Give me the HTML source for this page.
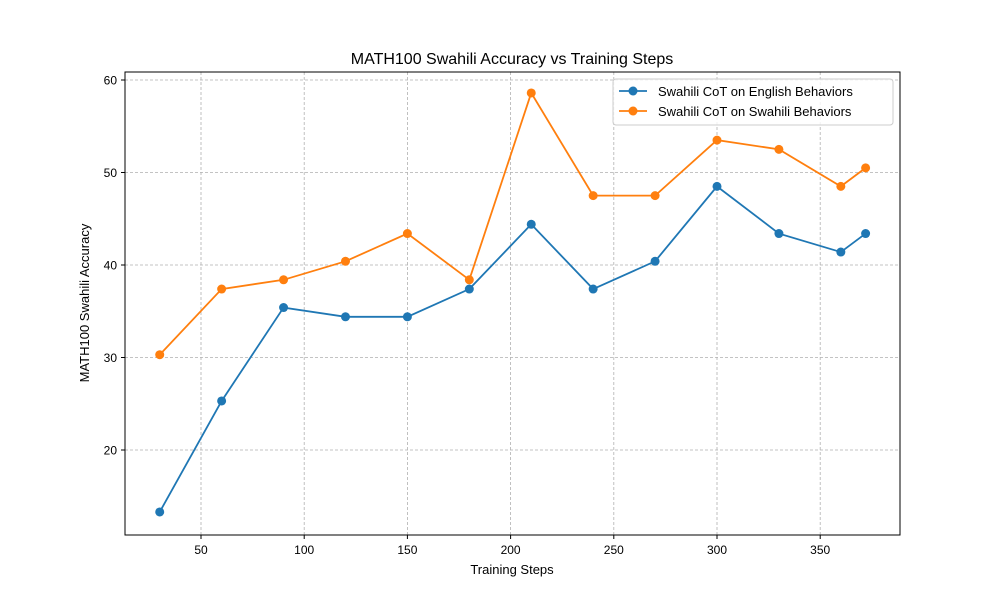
<!DOCTYPE html>
<html><head><meta charset="utf-8"><style>
body{margin:0;background:#fff;}
svg{font-family:"Liberation Sans","DejaVu Sans",sans-serif;}
</style></head><body>
<svg id="chart" width="1000" height="600" viewBox="0 0 1000 600">
<rect width="1000" height="600" fill="#fff"/>
<g id="grid"></g>
<g id="series"></g>
<rect x="125" y="72" width="775" height="463" fill="none" stroke="#000" stroke-width="1"/>
<g id="ticks"></g>
<text x="512" y="64" text-anchor="middle" font-size="16">MATH100 Swahili Accuracy vs Training Steps</text>
<text x="512" y="574" text-anchor="middle" font-size="13">Training Steps</text>
<text transform="translate(89,303) rotate(-90)" text-anchor="middle" font-size="13">MATH100 Swahili Accuracy</text>
<g>
<rect x="613" y="79" width="280" height="46" fill="#fff" fill-opacity="0.8" stroke="#ccc" rx="3"/>
<g>
<line x1="619" y1="91" x2="647" y2="91" stroke="#1f77b4" stroke-width="1.8"/>
<circle cx="633" cy="91" r="4.5" fill="#1f77b4"/>
<text x="658" y="96" font-size="13">Swahili CoT on English Behaviors</text></g>
<g>
<line x1="619" y1="111" x2="647" y2="111" stroke="#ff7f0e" stroke-width="1.8"/>
<circle cx="633" cy="111" r="4.5" fill="#ff7f0e"/>
<text x="658" y="116" font-size="13">Swahili CoT on Swahili Behaviors</text></g>
</g>
</svg>
<script>
const steps = [30,60,90,120,150,180,210,240,270,300,330,360,372];
const englishAcc = [13.3,25.3,35.4,34.4,34.4,37.4,44.4,37.4,40.4,48.5,43.4,41.4,43.4];
const swahiliAcc = [30.3,37.4,38.4,40.4,43.4,38.4,58.6,47.5,47.5,53.5,52.5,48.5,50.5];
const xTicks = [50,100,150,200,250,300,350];
const yTicks = [20,30,40,50,60];

const NS = "http://www.w3.org/2000/svg";
function xs(v){ return 97.8 + v*2.064; }
function ys(v){ return 635 - v*9.25; }
function mk(tag, attrs, parent){
  const e = document.createElementNS(NS, tag);
  for (const k in attrs) e.setAttribute(k, attrs[k]);
  parent.appendChild(e); return e;
}
const grid = document.getElementById('grid');
const ticks = document.getElementById('ticks');
xTicks.forEach(t=>{
  const x = xs(t);
  const g = mk('line',{x1:x,x2:x,y1:72,y2:535,stroke:'#b0b0b0','stroke-width':0.8,'stroke-dasharray':'3,2'},grid);
  
  
  mk('line',{x1:x,x2:x,y1:535,y2:539,stroke:'#000'},ticks);
  const tx = mk('text',{x:x,y:554,'text-anchor':'middle','font-size':12},ticks);
  tx.textContent = t;
  
  
});
yTicks.forEach(t=>{
  const y = ys(t);
  const g = mk('line',{x1:125,x2:900,y1:y,y2:y,stroke:'#b0b0b0','stroke-width':0.8,'stroke-dasharray':'3,2'},grid);
  
  
  mk('line',{x1:121,x2:125,y1:y,y2:y,stroke:'#000'},ticks);
  const tx = mk('text',{x:117,y:y+4.5,'text-anchor':'end','font-size':12},ticks);
  tx.textContent = t;
  
  
});
const series = document.getElementById('series');
function draw(vals, color, name){
  const g = mk('g',{},series);
  
  
  const pts = steps.map((s,i)=>xs(s)+','+ys(vals[i])).join(' ');
  const pl = mk('polyline',{points:pts,fill:'none',stroke:color,'stroke-width':1.8},g);
  
  
  steps.forEach((s,i)=>{
    const c = mk('circle',{cx:xs(s),cy:ys(vals[i]),r:4.5,fill:color},g);
    
    
  });
}
draw(englishAcc,'#1f77b4','english-series');
draw(swahiliAcc,'#ff7f0e','swahili-series');
</script>
</body></html>
